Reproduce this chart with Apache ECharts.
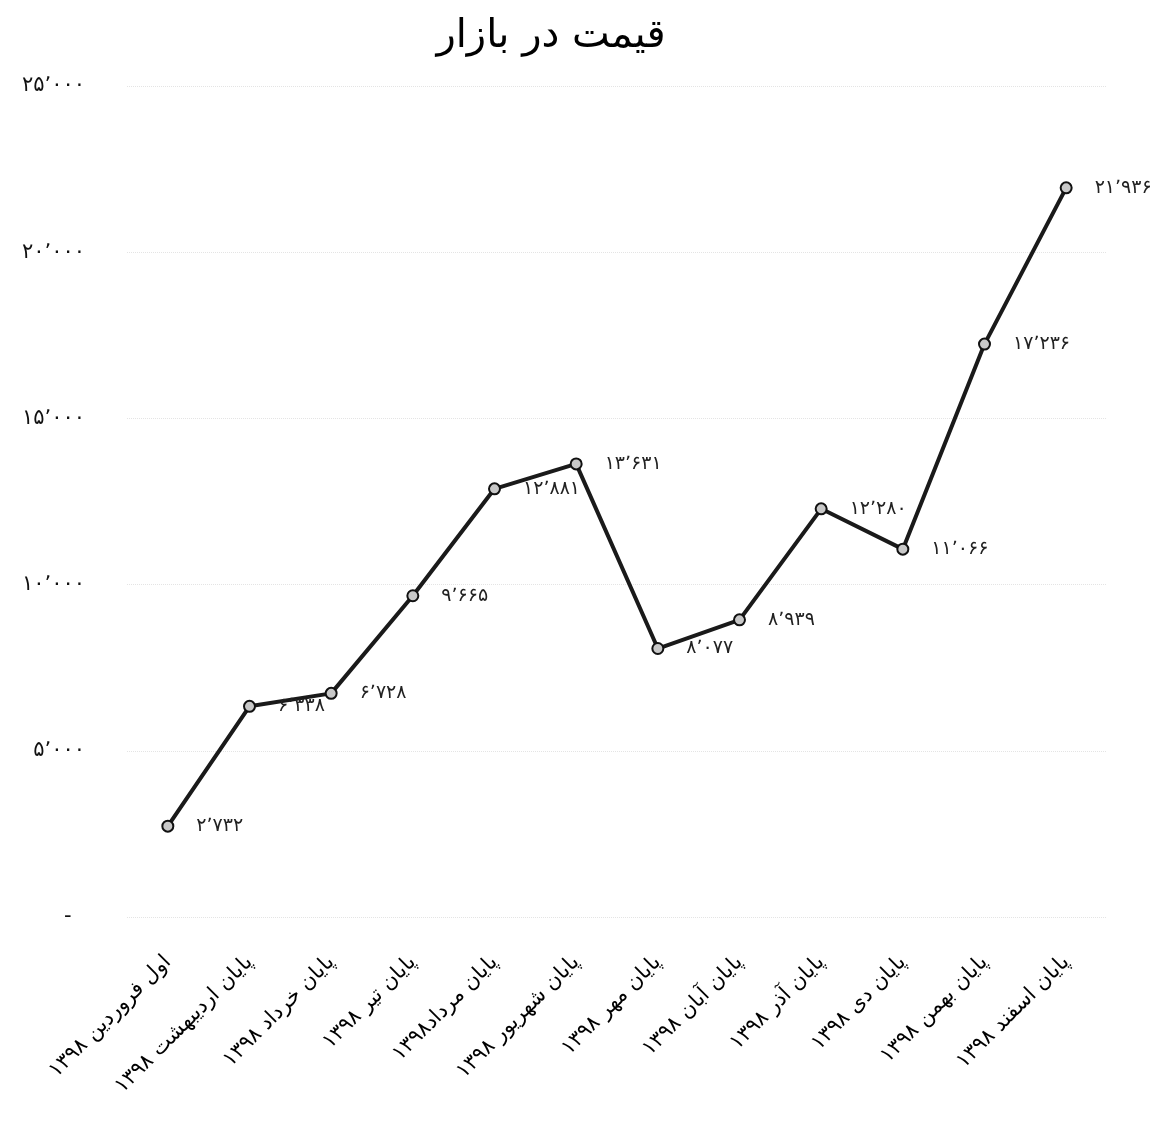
<!DOCTYPE html>
<html><head><meta charset="utf-8">
<script src="https://cdn.jsdelivr.net/npm/echarts@6/dist/echarts.min.js"></script>
<style>html,body{margin:0;padding:0;background:#fff}#c{width:1161px;height:1121px}</style>
</head><body><div id="c"></div>
<script>
var title = 'قیمت در بازار';
var categories = ['اول فروردین ۱۳۹۸','پایان اردیبهشت ۱۳۹۸','پایان خرداد ۱۳۹۸','پایان تیر ۱۳۹۸','پایان مرداد۱۳۹۸','پایان شهریور ۱۳۹۸','پایان مهر ۱۳۹۸','پایان آبان ۱۳۹۸','پایان آذر ۱۳۹۸','پایان دی ۱۳۹۸','پایان بهمن ۱۳۹۸','پایان اسفند ۱۳۹۸'];
var prices = [2732, 6338, 6728, 9665, 12881, 13631, 8077, 8939, 12280, 11066, 17236, 21936];
var yTicks = [0, 5000, 10000, 15000, 20000, 25000];

function fa(n){
  var s = String(Math.round(n)).replace(/\B(?=(\d{3})+(?!\d))/g, '٬');
  return s.replace(/\d/g, function(d){ return '۰۱۲۳۴۵۶۷۸۹'[+d]; });
}
var chart = echarts.init(document.getElementById('c'));
chart.setOption({
  animation:false,
  backgroundColor:'#fff',
  title:{text:title,left:546,top:12,textAlign:'center',textStyle:{fontFamily:'DejaVu Sans',fontSize:40,fontWeight:'normal',color:'#000'}},
  grid:{left:127,right:54,top:86,bottom:204},
  xAxis:{type:'category',data:categories,boundaryGap:true,
    axisLine:{show:false},axisTick:{show:false},
    axisLabel:{rotate:45,margin:42,interval:0,fontFamily:'DejaVu Sans',fontSize:21,color:'#000'}},
  yAxis:{type:'value',min:yTicks[0],max:yTicks[yTicks.length-1],interval:5000,
    axisLine:{show:false},axisTick:{show:false},
    splitLine:{show:true,lineStyle:{color:'#e4e4e4',type:'dotted',width:1}},
    axisLabel:{margin:42,fontFamily:'DejaVu Sans',fontSize:21,color:'#111',
      formatter:function(v){return v===0?'-  ':fa(v);}}},
  series:[{type:'line',data:prices,
    lineStyle:{color:'#1a1a1a',width:4},
    symbol:'circle',symbolSize:11,
    itemStyle:{color:'#c8c8c8',borderColor:'#111',borderWidth:2},
    label:{show:true,position:'right',distance:22,fontFamily:'DejaVu Sans',fontSize:19,color:'#222',
      formatter:function(p){return fa(p.value);}}}]
});
</script></body></html>
